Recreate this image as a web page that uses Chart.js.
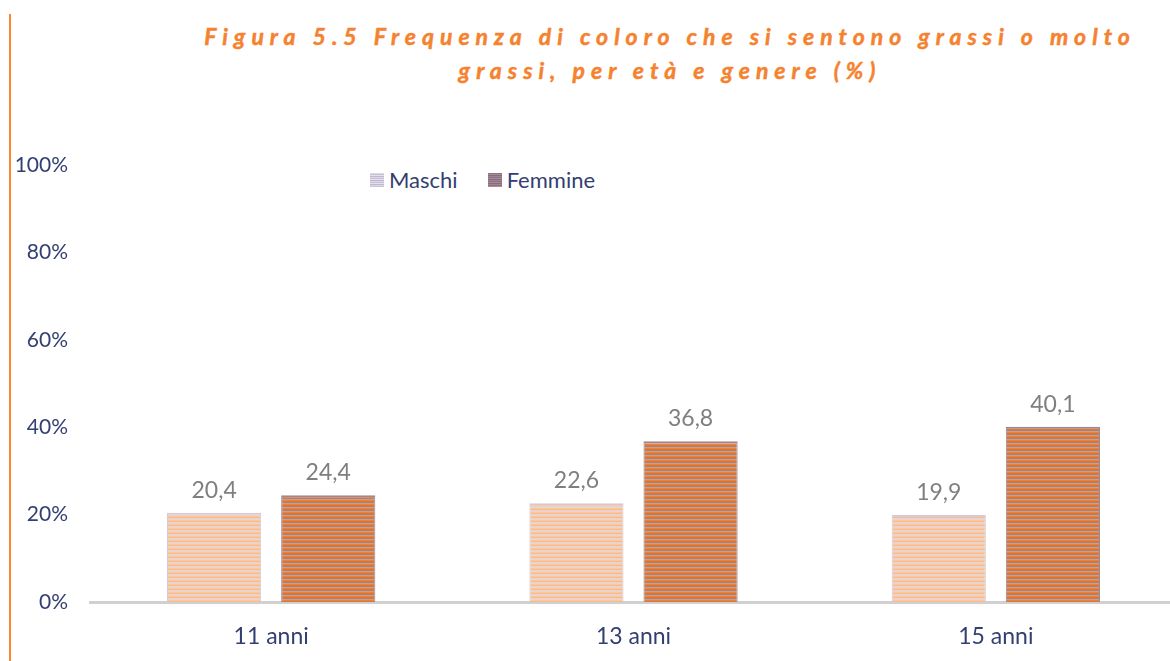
<!DOCTYPE html>
<html>
<head>
<meta charset="utf-8">
<script src="https://cdn.jsdelivr.net/npm/chart.js@4/dist/chart.umd.min.js"></script>
<style>
    body { margin: 0; background: #fff; font-family: Lato, "Open Sans", sans-serif; }
    .wrap { position: relative; width: 1170px; height: 661px; overflow: hidden; }
    .side_line { position: absolute; left: 9px; top: 14px; width: 2px; height: 647px; background: #f58a2e; }
    .title {
        position: absolute; left: 170px; width: 1000px; top: 19px;
        text-align: center; color: #f5822f; font-weight: bold; font-style: italic;
        font-size: 23px; letter-spacing: 6px; line-height: 34px;
        -webkit-text-stroke: 0.5px #f5822f;
    }
    .legend { position: absolute; top: 166px; left: 370px; display: flex; color: #333f70; font-size: 22px; }
    .legend .item { display: flex; align-items: center; margin-right: 30px; }
    .legend canvas { margin-right: 5px; }
    canvas#chart { position: absolute; left: 0; top: 0; }
</style>
</head>
<body>
<div class="wrap">
    <div class="side_line"></div>
    <div class="title">Figura 5.5 Frequenza di coloro che si sentono grassi o molto<br>grassi, per età e genere (%)</div>
    <div class="legend" id="legend"></div>
    <canvas id="chart" width="1177" height="661"></canvas>
</div>
<script>
let categories = ['11 anni', '13 anni', '15 anni'];
let series_names = ['Maschi', 'Femmine'];
let maschi_values = [20.4, 22.6, 19.9];
let femmine_values = [24.4, 36.8, 40.1];
let y_ticks = [0, 20, 40, 60, 80, 100];

// striped fills, like the original's line pattern
function make_Stripes(colors) {
    let c = document.createElement('canvas');
    c.width = 4;
    c.height = colors.length;
    let g = c.getContext('2d');
    colors.forEach((col, i) => {
        g.fillStyle = col;
        g.fillRect(0, i, 4, 1);
    });
    return g.createPattern(c, 'repeat');
}

let maschi_fill = make_Stripes(['#fcc79c', '#f9bb8a', '#e0d4dc', '#f6d2b8']);
let femmine_fill = make_Stripes(['#e8823c', '#de7430', '#9c8592', '#e09a68']);
let maschi_legend = ['#dcd6e6', '#c9c1d8', '#e4e0ec', '#bfb6cf'];
let femmine_legend = ['#8a7389', '#b08a8a', '#7f6c86', '#a08390'];

function legend_Box(colors) {
    let c = document.createElement('canvas');
    c.width = 14; c.height = 14;
    let g = c.getContext('2d');
    for (let y = 0; y < 14; y++) {
        g.fillStyle = colors[y % colors.length];
        g.fillRect(0, y, 14, 1);
    }
    return c;
}

let legend = document.getElementById('legend');
[maschi_legend, femmine_legend].forEach((cols, i) => {
    let item = document.createElement('div');
    item.className = 'item';
    item.appendChild(legend_Box(cols));
    let span = document.createElement('span');
    span.textContent = series_names[i];
    item.appendChild(span);
    legend.appendChild(item);
});

const value_labels = {
    id: 'value_labels',
    afterDatasetsDraw(chart) {
        let ctx = chart.ctx;
        ctx.save();
        ctx.font = '23px Lato, "Open Sans", sans-serif';
        ctx.fillStyle = '#7f7f7f';
        ctx.textAlign = 'center';
        ctx.textBaseline = 'alphabetic';
        chart.data.datasets.forEach((ds, i) => {
            chart.getDatasetMeta(i).data.forEach((bar, j) => {
                ctx.fillText(ds.data[j].toFixed(1).replace('.', ','), bar.x, bar.y - 15);
            });
        });
        ctx.restore();
    }
};

let ctx = document.getElementById('chart').getContext('2d');

const data = {
    labels: categories,
    datasets: [
        {
            label: series_names[0],
            data: maschi_values,
            backgroundColor: maschi_fill,
            borderColor: '#d3cadc',
            borderWidth: { top: 2, left: 1, right: 1, bottom: 0 },
            categoryPercentage: 0.63,
            barPercentage: 0.825
        },
        {
            label: series_names[1],
            data: femmine_values,
            backgroundColor: femmine_fill,
            borderColor: '#9a8898',
            borderWidth: { top: 2, left: 1, right: 1, bottom: 0 },
            categoryPercentage: 0.63,
            barPercentage: 0.825
        }
    ]
};

const config = {
    type: 'bar',
    data: data,
    options: {
        responsive: false,
        animation: false,
        layout: { padding: { top: 165, left: 0, right: 0, bottom: 0 } },
        plugins: {
            legend: { display: false },
            title: { display: false },
            tooltip: { enabled: false }
        },
        scales: {
            x: {
                grid: { display: false, drawTicks: false },
                border: { display: true, color: '#d0d0d0', width: 3 },
                afterFit: (axis) => { axis.height = 59; },
                ticks: {
                    color: '#333f70',
                    font: { family: 'Lato, "Open Sans", sans-serif', size: 23 },
                    padding: 21
                }
            },
            y: {
                min: 0,
                max: 100,
                grid: { display: false, drawTicks: false },
                border: { display: false },
                afterBuildTicks: (axis) => { axis.ticks = y_ticks.map(v => ({ value: v })); },
                afterFit: (axis) => { axis.width = 90; },
                ticks: {
                    color: '#333f70',
                    font: { family: 'Lato, "Open Sans", sans-serif', size: 21 },
                    padding: 22,
                    callback: (v) => v + '%'
                }
            }
        }
    },
    plugins: [value_labels]
};

let created_chart = new Chart(ctx, config);
</script>
</body>
</html>
